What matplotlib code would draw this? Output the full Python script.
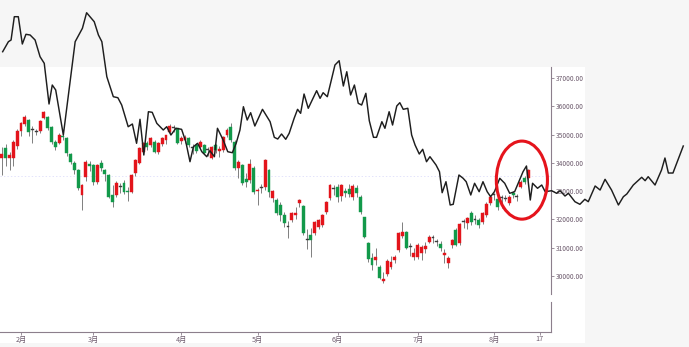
import matplotlib
matplotlib.use("Agg")
import matplotlib.pyplot as plt
from matplotlib.patches import Ellipse, Rectangle
import numpy as np

plt.rcParams["font.family"] = ["Noto Sans CJK SC", "DejaVu Sans"]

# daily candles, index 0 = first session shown
opens = [34172, 34525, 34172, 34172, 34596, 35126, 35374, 35515, 35162, 35100,
         35126, 35590, 35621, 35268, 34738, 34702, 34950, 34879, 34313, 33995,
         33747, 32864, 33500, 33960, 33924, 33323, 33995, 33750, 33570, 32850,
         32864, 33150, 33288, 33000, 32970, 33641, 33995, 34384, 34702, 34631,
         34738, 34384, 34667, 34808, 35091, 35250, 35232, 34773, 34808, 34879,
         34540, 34631, 34561, 34631, 34470, 34172, 34631, 34420, 34455, 34985,
         35268, 34738, 33818, 33924, 33420, 33394, 33818, 33000, 33111, 33146,
         33747, 32757, 32687, 32510, 32157, 31760, 31980, 32157, 32581, 32475,
         31300, 31450, 31521, 31733, 31804, 32263, 32757, 33100, 33146, 32828,
         33005, 33076, 32793, 33111, 32793, 32086, 31167, 30637, 30566, 30318,
         29824, 30071, 30318, 30566, 30920, 31415, 31556, 31050, 30672, 30672,
         30814, 30955, 31202, 31360, 31220, 31132, 30743, 30460, 31096, 31627,
         31167, 31930, 31874, 32228, 31990, 31980, 31909, 32157, 32581, 32864,
         32722, 32760, 32757, 32581, 32934, 32810, 33146, 33464, 33464]
highs = [34560, 34650, 34400, 34800, 35200, 35450, 35680, 35560, 35300, 35200,
         35520, 35820, 35650, 35290, 34800, 35050, 35050, 34900, 34350, 34050,
         33800, 33250, 34100, 34050, 33950, 33950, 34100, 33800, 33600, 33200,
         33350, 33300, 33400, 33150, 33600, 34150, 34550, 34750, 34780, 34900,
         34800, 34750, 34900, 35000, 35370, 35350, 35250, 34950, 35000, 34900,
         34650, 34700, 34800, 34650, 34550, 34600, 34680, 34600, 34950, 35250,
         35400, 34800, 34100, 33950, 33650, 34150, 33900, 33100, 33250, 34150,
         33800, 33050, 32750, 32600, 32250, 31950, 32280, 32450, 32720, 32500,
         31650, 31700, 31950, 32000, 32200, 32650, 33250, 33200, 33250, 33250,
         33100, 33250, 33250, 33200, 32850, 32100, 31200, 30800, 31000, 30400,
         30150, 30600, 30700, 30750, 31550, 31900, 31600, 31150, 31000, 31150,
         31100, 31200, 31450, 31450, 31300, 31250, 30950, 30700, 31320, 31700,
         31880, 32000, 32100, 32300, 32150, 32050, 32250, 32600, 32850, 32950,
         32800, 32850, 32850, 32850, 33000, 32900, 33380, 33550, 33800]
lows = [33570, 33900, 33750, 33900, 34500, 34950, 35300, 34950, 34700, 35000,
        35050, 35550, 35150, 34650, 34450, 34650, 34800, 34250, 33950, 33600,
        33050, 32350, 33350, 33700, 33200, 33250, 33700, 33350, 32750, 32450,
        32800, 32950, 32900, 32650, 32950, 33550, 33950, 34300, 34450, 34550,
        34350, 34300, 34600, 34650, 35050, 35100, 34650, 34650, 34700, 34550,
        34300, 34350, 34480, 34300, 34250, 34150, 34350, 34200, 34400, 34900,
        34750, 33750, 33450, 33200, 33150, 33300, 32900, 32510, 32950, 33050,
        32800, 32600, 32150, 31950, 31750, 31350, 31900, 32000, 32450, 31450,
        30950, 30670, 31450, 31650, 31750, 32200, 32700, 32850, 32600, 32650,
        32800, 32800, 32700, 32800, 32200, 31350, 30500, 30200, 30400, 29900,
        29750, 30000, 30250, 30450, 30850, 31350, 30950, 30700, 30550, 30600,
        30550, 30800, 31150, 31150, 31050, 30900, 30450, 30300, 31000, 31050,
        31100, 31700, 31650, 31800, 31850, 31700, 31850, 32100, 32500, 32700,
        32350, 32400, 32650, 32500, 32750, 32650, 33100, 33250, 33400]
closes = [34313, 34172, 34278, 34738, 35126, 35409, 35621, 35091, 35200, 35126,
          35480, 35798, 35232, 34738, 34561, 34985, 34900, 34349, 34030, 33747,
          33111, 33217, 34030, 33889, 33323, 33924, 33818, 33614, 32793, 32616,
          33288, 33182, 32970, 32960, 33570, 34101, 34525, 34702, 34561, 34879,
          34384, 34702, 34879, 34985, 35303, 35232, 34702, 34879, 34914, 34631,
          34525, 34420, 34738, 34349, 34440, 34561, 34455, 34480, 34914, 35162,
          34808, 33818, 34030, 33288, 33323, 33950, 32970, 33050, 33146, 34101,
          32970, 33005, 32228, 32157, 31874, 31733, 32228, 32228, 32687, 31521,
          31273, 31273, 31909, 31980, 32157, 32616, 33217, 33076, 32793, 33217,
          32934, 32899, 33182, 32934, 32263, 31380, 30600, 30389, 30672, 29930,
          29894, 30531, 30500, 30672, 31521, 31556, 30990, 31026, 30814, 31096,
          31026, 31061, 31380, 31344, 31202, 30990, 30814, 30637, 31273, 31096,
          31839, 31909, 32051, 31909, 31980, 31804, 32228, 32545, 32793, 32900,
          32439, 32793, 32722, 32793, 32864, 32793, 33323, 33323, 33747]

# overlay line (session index, value)
line_x = [0.2, 1.7, 2.4, 3.25, 4.3, 5.35, 6.3, 7.4, 8.7, 10.0, 11.1, 12.35, 13.2, 14.1,
          16.1, 19.2, 21.1, 22.2, 24.2, 25.3, 26.2, 27.5, 29.2, 30.4, 31.4, 33.1, 34.2,
          35.3, 36.2, 37.2, 38.4, 39.4, 40.6, 42.3, 43.2, 44.3, 45.6, 47.1, 48.2, 49.3,
          50.2, 51.3, 52.4, 53.7, 54.5, 55.7, 56.5, 58.0, 59.2, 60.4, 61.4, 62.4, 63.3,
          64.3, 65.2, 66.3, 68.3, 70.3, 71.4, 72.3, 73.3, 74.4, 75.3, 76.6, 77.5, 78.3,
          79.2, 80.3, 82.5, 83.4, 84.2, 85.3, 87.3, 88.4, 89.5, 90.4, 91.4, 92.4, 93.4,
          94.3, 95.4, 96.3, 97.4, 98.2, 99.6, 100.4, 101.5, 102.4, 103.5, 104.3, 105.2,
          106.4, 107.4, 108.3, 109.4, 110.3, 111.3, 112.2, 113.8, 114.7, 115.4, 116.4,
          117.5, 118.3, 119.8, 120.9, 121.7, 122.9, 123.9, 125.1, 126.1, 127.2, 128.1,
          129.1, 130.5, 131.8, 133.1, 134.4, 135.5, 136.6, 137.5, 138.5, 139.1, 140.4,
          141.5, 142.4, 144.1, 145.4, 146.3, 147.6, 148.5, 150.2, 151.5, 152.8, 153.7,
          155.5, 156.8, 158.1, 159.8, 161.6, 162.9, 163.8, 165.5, 167.7, 168.6, 169.4,
          171.2, 172.9, 173.8, 174.7, 175.9, 178.6]
line_y = [37929, 38283, 38343, 39167, 39167, 38202, 38545, 38520, 38343, 37753, 37519,
          36081, 36752, 36576, 34985, 38283, 38757, 39308, 38990, 38520, 38283, 37046,
          36339, 36303, 36045, 35278, 35374, 34691, 35540, 34278, 35808, 35787, 35398,
          35162, 35278, 34985, 35222, 35186, 34748, 34041, 34571, 34691, 34394, 34218,
          34430, 34218, 35222, 34808, 34394, 34359, 34691, 35162, 35985, 35515, 35773,
          35303, 35893, 35455, 34903, 34843, 35020, 34833, 35045, 35575, 35893, 35752,
          36434, 35929, 36551, 36282, 36480, 36339, 37459, 37611, 36717, 37222, 36399,
          36752, 36105, 36045, 36459, 35490, 34903, 34903, 35455, 35222, 35808, 35338,
          36010, 36127, 35893, 35929, 34985, 34631, 34313, 34479, 34041, 34218, 33924,
          33687, 32945, 33334, 32510, 32535, 33571, 33454, 33334, 32864, 33278, 32981,
          33334, 32981, 32804, 32981, 33454, 33278, 32924, 32981, 33334, 33687, 33889,
          32687, 33278, 33101, 33217, 32981, 33016, 32924, 33016, 32828, 32924, 32627,
          32535, 32712, 32627, 33182, 33040, 33419, 33040, 32510, 32804, 32899, 33217,
          33490, 33370, 33511, 33217, 33747, 34172, 33641, 33641, 34596]

tick_pos = [5, 24, 47, 67, 88, 109, 129, 141]
tick_labels = ["2月", "3月", "4月", "5月", "6月", "7月", "8月", "17"]
price_ticks = [30000, 31000, 32000, 33000, 34000, 35000, 36000, 37000]
ref_level = 33540
mark_center = (136.3, 33390)
mark_size = (13.4, 2760)

opens = np.array(opens, dtype=float)
highs = np.array(highs, dtype=float)
lows = np.array(lows, dtype=float)
closes = np.array(closes, dtype=float)
idx = np.arange(len(closes))

W, H = 689, 347
fig = plt.figure(figsize=(W / 100, H / 100), dpi=100, facecolor="#f6f6f6")
panel = Rectangle((0, 1 - 343 / H), 585 / W, 276 / H, transform=fig.transFigure,
                  facecolor="white", edgecolor="none")
panel.set_zorder(-10)
fig.add_artist(panel)

text_col = "#6e5c6e"
axis_col = "#8c7f8c"
xlim = (-0.5, 143.93)

ax = fig.add_axes([0, 1 - 294 / H, 551 / W, 227 / H], facecolor="none")
ax.set_zorder(2)
ax.set_xlim(*xlim)
ax.set_ylim(29364, 37389)

up = closes >= opens
flat = np.abs(closes - opens) < 40
colors = np.where(flat, "#3c3c3c", np.where(up, "#e3141b", "#12994a"))
ax.vlines(idx, lows, highs, color="#6a6a6a", linewidth=0.6, zorder=2)
body_lo = np.minimum(opens, closes)
body_h = np.maximum(np.abs(closes - opens), 35)
ax.bar(idx, body_h, bottom=body_lo, width=0.76, color=colors, edgecolor=colors,
       linewidth=0.3, zorder=3)

ax.axhline(ref_level, color="#8c8cf0", linestyle=(0, (2, 3)), linewidth=0.5, alpha=0.35, zorder=1)

ax.plot(line_x, line_y, color="#1e1e1e", linewidth=1.05, clip_on=False, zorder=5)

ax.add_patch(Ellipse(mark_center, mark_size[0], mark_size[1], fill=False,
                     edgecolor="#e5141c", linewidth=2.2, clip_on=False, zorder=6))

for side in ["left", "top", "bottom"]:
    ax.spines[side].set_visible(False)
ax.spines["right"].set_color(axis_col)
ax.spines["right"].set_linewidth(0.8)
ax.yaxis.tick_right()
ax.set_yticks(price_ticks)
ax.set_yticklabels([f"{p:.2f}" for p in price_ticks])
ax.tick_params(axis="y", colors=axis_col, labelcolor=text_col, labelsize=4.8,
               length=2, width=0.6, pad=1.5)
ax.set_xticks([])

# empty lower pane carrying the date axis
ax2 = fig.add_axes([0, 1 - 332 / H, 551 / W, 30 / H], facecolor="none")
ax2.set_zorder(1)
ax2.set_xlim(*xlim)
ax2.set_ylim(0, 1)
for side in ["left", "top"]:
    ax2.spines[side].set_visible(False)
for side in ["right", "bottom"]:
    ax2.spines[side].set_color(axis_col)
    ax2.spines[side].set_linewidth(0.8)
ax2.set_yticks([])
ax2.set_xticks(tick_pos)
ax2.set_xticklabels(tick_labels)
ax2.tick_params(axis="x", colors=axis_col, labelcolor=text_col, labelsize=5.2,
                length=2, width=0.6, pad=0.5)

fig.savefig("out.png", dpi=100, facecolor=fig.get_facecolor())
